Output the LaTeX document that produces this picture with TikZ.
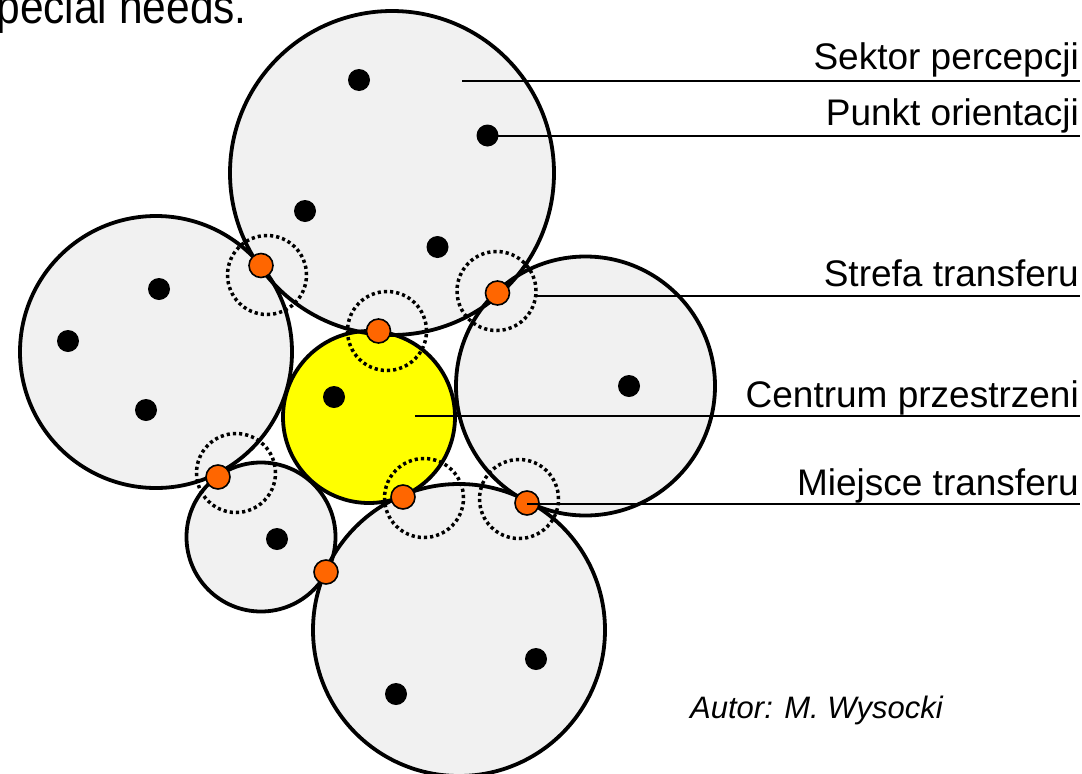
\documentclass[tikz,border=0pt]{standalone}
\usepackage{fontspec}
\setmainfont{Liberation Sans}
\newfontfamily\headfont[FakeStretch=0.885]{Liberation Sans}
\definecolor{sectorfill}{RGB}{241,241,241}
\definecolor{centrefill}{RGB}{255,255,0}
\definecolor{transfer}{RGB}{255,102,0}
\begin{document}
\begin{tikzpicture}[x=1pt,y=-1pt,
  outline/.style={draw=black, line width=3.8pt},
  landmark/.style={circle, fill=black, inner sep=0pt, minimum size=22pt},
  transferpt/.style={circle, fill=transfer, draw=black, line width=1.6pt, inner sep=0pt, minimum size=24pt},
  zone/.style={circle, draw=black, line width=3.5pt, dash pattern=on 3.2pt off 3pt, inner sep=0pt, minimum size=79pt},
  leader/.style={draw=black, line width=2pt},
  legendtext/.style={anchor=base east, inner sep=0pt, font=\fontsize{37}{40}\selectfont},
]
\useasboundingbox (0,0) rectangle (1082,774);
\clip (0,0) rectangle (1082,774);

% heading line running off the top edge
\node[anchor=base east, inner sep=0pt, font=\headfont\fontsize{48}{50}\selectfont] (heading) at (247,23) {special needs.};

% centres of the spaces
\coordinate (cT) at (392,173);
\coordinate (cL) at (156,352);
\coordinate (cC) at (369,417);
\coordinate (cR) at (585.5,386);
\coordinate (cS) at (261,537);
\coordinate (cB) at (459,630);

% fills first, outlines on top so every rim stays visible
\fill[sectorfill] (cT) circle[radius=162pt];
\fill[sectorfill] (cL) circle[radius=136pt];
\fill[sectorfill] (cR) circle[radius=129.5pt];
\fill[sectorfill] (cS) circle[radius=74.5pt];
\fill[sectorfill] (cB) circle[radius=146pt];
\fill[centrefill] (cC) circle[radius=86pt];

\draw[outline] (cT) circle[radius=162pt];
\draw[outline] (cL) circle[radius=136pt];
\draw[outline] (cR) circle[radius=129.5pt];
\draw[outline] (cS) circle[radius=74.5pt];
\draw[outline] (cB) circle[radius=146pt];
\draw[outline] (cC) circle[radius=86pt];

% transfer zones
\node[zone] (z1) at (267,275) {};
\node[zone] (z2) at (496.5,291) {};
\node[zone] (z3) at (387,331) {};
\node[zone] (z4) at (236,473) {};
\node[zone] (z5) at (424,498) {};
\node[zone] (z6) at (519,499) {};

% legend
\node[legendtext] (tSektor) at (1079,69) {Sektor percepcji};
\node[legendtext] (tPunkt) at (1079,125) {Punkt orientacji};
\node[legendtext] (tStrefa) at (1079,286) {Strefa transferu};
\node[legendtext] (tCentrum) at (1079,407) {Centrum przestrzeni};
\node[legendtext] (tMiejsce) at (1079,495) {Miejsce transferu};

\coordinate (sSektor) at (462,81);
\coordinate (eSektor) at (1080,81);
\coordinate (ePunkt) at (1080,136);
\coordinate (sStrefa) at (536,296);
\coordinate (eStrefa) at (1080,296);
\coordinate (sCentrum) at (415,416);
\coordinate (eCentrum) at (1080,416);
\coordinate (eMiejsce) at (1080,504);

\draw[leader] (sSektor) -- (eSektor);
\draw[leader] (487.5,136) coordinate (sPunkt) -- (ePunkt);
\draw[leader] (sStrefa) -- (eStrefa);
\draw[leader] (sCentrum) -- (eCentrum);

% orientation points
\node[landmark] (pT1) at (359,80) {};
\node[landmark] (pT2) at (487.5,135.5) {};
\node[landmark] (pT3) at (305,211) {};
\node[landmark] (pT4) at (437.5,247) {};
\node[landmark] (pL1) at (159,289) {};
\node[landmark] (pL2) at (68,341) {};
\node[landmark] (pL3) at (146,410) {};
\node[landmark] (pC1) at (334,397) {};
\node[landmark] (pR1) at (629,386) {};
\node[landmark] (pS1) at (277,539) {};
\node[landmark] (pB1) at (536,659) {};
\node[landmark] (pB2) at (396,694) {};

% transfer places
\node[transferpt] (m1) at (261,265.5) {};
\node[transferpt] (m2) at (497.5,293) {};
\node[transferpt] (m3) at (378.5,331) {};
\node[transferpt] (m4) at (218,477) {};
\node[transferpt] (m5) at (403,497) {};
\node[transferpt] (m6) at (527,503) {};
\node[transferpt] (m7) at (326,572) {};

\draw[leader] (m6.center) ++(0,1) -- (eMiejsce);

% credit
\node[anchor=base west, inner sep=0pt, font=\itshape\fontsize{31}{34}\selectfont] (author) at (690,718) {Autor: M. Wysocki};
\end{tikzpicture}
\end{document}
